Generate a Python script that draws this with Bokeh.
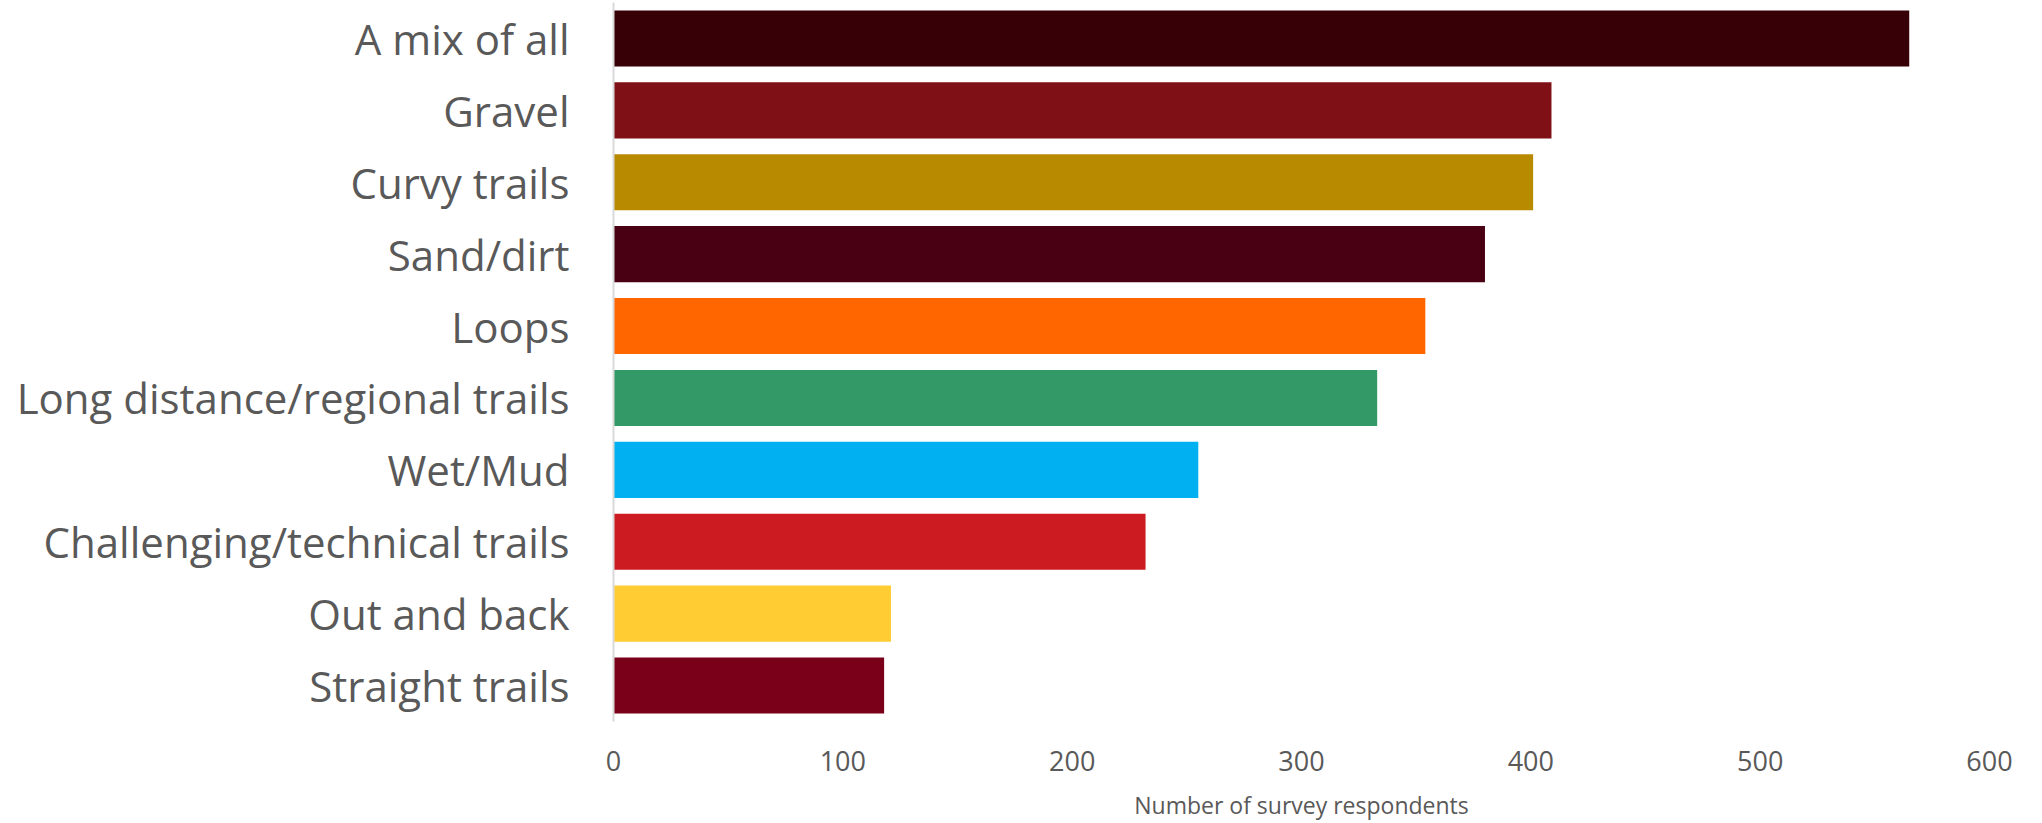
from bokeh.plotting import figure
from bokeh.models import ColumnDataSource, FactorRange
from bokeh.embed import file_html
from bokeh.resources import INLINE

categories = ["A mix of all", "Gravel", "Curvy trails", "Sand/dirt", "Loops",
              "Long distance/regional trails", "Wet/Mud",
              "Challenging/technical trails", "Out and back", "Straight trails"]
values = [565, 409, 401, 380, 354, 333, 255, 232, 121, 118]
colors = ["#370006", "#7f1016", "#b88a00", "#480012", "#ff6600",
          "#339966", "#00b0f0", "#cc1b21", "#ffcc33", "#7a0019"]
x_ticks = [0, 100, 200, 300, 400, 500, 600]

src = ColumnDataSource(dict(cat=categories, val=values, color=colors))

p = figure(width=2028, height=823, output_backend="svg", toolbar_location=None,
           y_range=FactorRange(factors=list(reversed(categories))),
           x_range=(0, 600))
p.min_border_left = 613
p.min_border_right = 39
p.min_border_top = 2
p.min_border_bottom = 94
p.outline_line_color = None
p.background_fill_color = "white"
p.border_fill_color = "white"

p.hbar(y="cat", right="val", left=0, height=0.78, fill_color="color",
       line_color=None, source=src)

p.xgrid.grid_line_color = None
p.ygrid.grid_line_color = None

xa = p.xaxis[0]
xa.ticker = x_ticks
xa.axis_line_color = None
xa.major_tick_line_color = None
xa.minor_tick_line_color = None
xa.major_tick_out = 0
xa.major_tick_in = 0
xa.major_label_standoff = 29
xa.major_label_text_font = "Open Sans"
xa.major_label_text_font_size = "27px"
xa.major_label_text_color = "#595959"
xa.axis_label = "Number of survey respondents"
xa.axis_label_text_font = "Open Sans"
xa.axis_label_text_font_size = "23px"
xa.axis_label_text_font_style = "normal"
xa.axis_label_text_color = "#595959"
xa.axis_label_standoff = 15

ya = p.yaxis[0]
ya.axis_line_color = "#d9d9d9"
ya.axis_line_width = 2
ya.major_tick_line_color = None
ya.minor_tick_line_color = None
ya.major_tick_out = 0
ya.major_tick_in = 0
ya.major_label_standoff = 44
ya.major_label_text_font = "Open Sans"
ya.major_label_text_font_size = "42px"
ya.major_label_text_color = "#595959"

open("out.html", "w").write(file_html(p, INLINE))
